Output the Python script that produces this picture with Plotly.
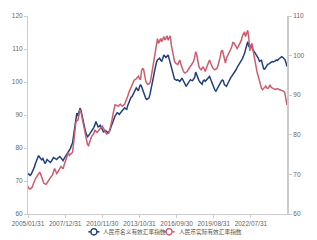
import pandas as pd
import plotly.graph_objects as go

# Monthly category labels (month-end), 2005/01/31 .. 2025/05/31
try:
    dates = list(pd.date_range("2005-01-31", periods=245, freq="ME").strftime("%Y/%m/%d"))
except Exception:
    dates = list(pd.date_range("2005-01-31", periods=245, freq="M").strftime("%Y/%m/%d"))

tick_labels = ["2005/01/31", "2007/12/31", "2010/11/30", "2013/10/31",
               "2016/09/30", "2019/08/31", "2022/07/31"]

nominal_name = "人民币名义有效汇率指数"
real_name = "人民币实际有效汇率指数"

nominal = [
    72.3, 72.0, 71.7, 72.0, 72.6, 73.2, 74.2, 75.3, 76.0, 76.8,
    77.7, 77.2, 76.6, 76.4, 76.8, 76.2, 75.3, 75.8, 76.5, 76.2,
    75.9, 75.6, 76.0, 76.6, 77.1, 76.9, 76.6, 76.5, 76.9, 77.2,
    77.4, 77.0, 76.6, 76.2, 76.8, 77.3, 77.7, 78.2, 78.7, 79.2,
    79.9, 80.8, 81.6, 83.8, 86.0, 89.0, 90.6, 89.7, 90.8, 92.1,
    91.3, 89.5, 87.6, 86.3, 85.2, 84.2, 83.4, 83.7, 84.2, 84.6,
    85.1, 85.7, 86.2, 87.0, 88.0, 87.3, 86.4, 86.5, 86.9, 86.3,
    85.5, 84.9, 85.0, 85.3, 85.0, 84.7, 84.9, 85.2, 86.2, 87.2,
    88.1, 88.9, 89.7, 90.2, 90.7, 90.5, 90.2, 90.6, 91.1, 91.5,
    92.0, 92.2, 91.9, 91.7, 92.9, 93.8, 95.0, 95.3, 95.6, 96.4,
    97.2, 97.6, 98.2, 97.8, 97.3, 98.5, 99.2, 98.6, 97.5, 96.4,
    95.8, 95.0, 94.7, 94.9, 95.2, 96.4, 97.7, 99.4, 101.2, 103.0,
    104.8, 105.9, 106.7, 107.0, 107.2, 106.6, 106.3, 107.2, 108.2, 107.8,
    107.4, 107.8, 108.2, 107.0, 105.6, 104.6, 102.8, 101.8, 100.9, 100.7,
    100.5, 100.7, 100.5, 100.2, 100.6, 101.2, 100.6, 99.9, 99.2, 98.7,
    99.2, 99.7, 100.2, 100.7, 100.5, 100.4, 100.9, 101.4, 103.0, 102.0,
    101.2, 100.5, 100.0, 99.5, 99.3, 100.3, 100.6, 100.2, 100.5, 101.1,
    101.4, 101.7, 100.9, 100.0, 99.2, 98.3, 97.6, 97.2, 97.9, 98.6,
    99.2, 99.7, 100.2, 100.6, 100.4, 99.2, 98.8, 98.7, 99.4, 100.2,
    100.8, 101.3, 101.8, 102.2, 102.6, 103.0, 103.7, 104.4, 104.9, 105.4,
    105.7, 106.4, 107.1, 107.9, 108.6, 109.9, 111.3, 112.2, 110.8, 110.5,
    111.2, 110.2, 109.7, 109.3, 108.8, 108.2, 107.8, 107.2, 106.3, 106.5,
    106.6, 105.2, 104.0, 103.9, 104.5, 105.0, 105.4, 105.5, 105.7, 106.0,
    106.2, 106.1, 106.2, 106.4, 106.7, 106.5, 106.9, 107.2, 107.4, 107.7,
    107.5, 107.2, 106.8, 105.9, 104.7,
]

real = [
    67.0, 66.4, 66.3, 66.5, 66.8, 67.6, 68.4, 68.9, 69.3, 69.8,
    70.2, 70.6, 70.0, 69.2, 68.3, 67.7, 67.6, 67.5, 67.9, 68.4,
    68.9, 69.1, 69.5, 69.8, 70.6, 71.5, 70.9, 70.2, 70.5, 71.0,
    71.5, 72.0, 71.7, 71.4, 72.3, 73.2, 73.9, 75.0, 75.6, 74.8,
    75.0, 75.3, 75.6, 78.0, 80.5, 83.0, 83.6, 83.7, 85.0, 86.4,
    85.6, 84.2, 82.5, 81.0, 79.5, 78.1, 77.6, 77.3, 77.9, 78.9,
    79.6, 80.0, 80.3, 81.2, 81.0, 80.6, 80.9, 81.2, 81.5, 81.9,
    82.2, 81.7, 81.1, 80.5, 80.2, 80.3, 80.4, 81.2, 82.2, 83.6,
    85.1, 86.5, 87.6, 87.5, 87.3, 87.2, 87.5, 87.7, 87.4, 87.2,
    87.5, 87.7, 88.4, 89.0, 89.8, 90.7, 91.4, 91.8, 92.3, 93.1,
    93.8, 94.0, 94.1, 94.5, 94.8, 94.2, 93.9, 96.2, 96.8, 96.4,
    94.8, 93.5, 93.0, 92.7, 92.9, 93.1, 94.5, 96.0, 97.8, 99.5,
    101.0, 102.6, 104.3, 103.1, 103.6, 104.3, 103.5, 104.0, 104.8, 103.9,
    104.5, 105.0, 103.9, 104.6, 105.0, 102.7, 101.0, 99.4, 98.6, 98.1,
    97.8, 97.7, 98.3, 98.9, 97.9, 96.8, 96.3, 95.8, 95.6, 95.8,
    96.0, 96.5, 96.8, 97.3, 97.7, 98.1, 98.5, 99.6, 101.0, 100.2,
    98.5, 97.2, 96.7, 96.4, 96.8, 97.2, 96.6, 96.0, 96.8, 97.5,
    98.2, 98.9, 98.2, 97.3, 96.9, 96.6, 96.4, 96.6, 96.8, 97.5,
    98.3, 99.6, 101.0, 101.4, 100.4, 99.2, 98.1, 99.4, 99.9, 100.5,
    101.0, 101.6, 102.3, 103.3, 103.2, 102.7, 102.2, 101.8, 102.2, 102.7,
    103.3, 103.9, 105.0, 105.6, 106.0, 104.8, 105.8, 106.4, 104.5, 101.2,
    102.5, 103.1, 101.4, 99.7, 98.5, 96.5, 95.6, 94.7, 93.6, 92.4,
    91.7, 91.4, 91.7, 91.9, 92.3, 91.8, 91.7, 92.0, 92.6, 92.0,
    91.8, 91.6, 91.5, 91.4, 91.6, 91.7, 91.5, 91.4, 91.3, 91.2,
    91.1, 91.0, 90.5, 89.4, 87.5,
]

BLUE = "#213f7c"
RED = "#cf5c6c"
TICK_FONT = "Liberation Sans"
CJK_FONT = "Noto Sans CJK SC"
TICK_COLOR = "#666666"
AXIS_COLOR = "#cccccc"

W, H = 317, 240
ML, MR, MT, MB = 20, 18, 14, 26
PW, PH = W - ML - MR, H - MT - MB


def px(xp):
    return (xp - ML) / PW


def py(yp):
    return (H - MB - yp) / PH


fig = go.Figure()
fig.add_trace(go.Scatter(x=dates, y=nominal, mode="lines", name=nominal_name,
                         line=dict(color=BLUE, width=1.5), yaxis="y"))
fig.add_trace(go.Scatter(x=dates, y=real, mode="lines", name=real_name,
                         line=dict(color=RED, width=1.5), yaxis="y2"))

# custom compact legend (line + open circle + label)
shapes = []
annotations = []
legend_items = [(nominal_name, BLUE, 85.0), (real_name, RED, 166.0)]
ly = 232.0
r = 3.2
for name, color, x0 in legend_items:
    shapes.append(dict(type="line", xref="paper", yref="paper",
                       x0=px(x0), x1=px(x0 + 12), y0=py(ly), y1=py(ly),
                       line=dict(color=color, width=1.5)))
    cx = x0 + 6
    shapes.append(dict(type="circle", xref="paper", yref="paper",
                       x0=px(cx - r), x1=px(cx + r), y0=py(ly + r), y1=py(ly - r),
                       fillcolor="white", line=dict(color=color, width=1.3)))
    annotations.append(dict(text=name, xref="paper", yref="paper",
                            x=px(x0 + 14), y=py(ly), xanchor="left", yanchor="middle",
                            showarrow=False,
                            font=dict(family=CJK_FONT, size=5.7, color="#555555")))

fig.update_layout(
    width=W, height=H,
    margin=dict(l=ML, r=MR, t=MT, b=MB),
    paper_bgcolor="white", plot_bgcolor="white",
    font=dict(family=TICK_FONT, size=6.5, color=TICK_COLOR),
    showlegend=False,
    shapes=shapes,
    annotations=annotations,
    xaxis=dict(type="category", range=[0, len(dates) - 1],
               tickmode="array", tickvals=tick_labels, ticktext=tick_labels,
               showgrid=False, zeroline=False, showline=True, linecolor=AXIS_COLOR, linewidth=1,
               ticks="outside", ticklen=3, tickcolor=AXIS_COLOR,
               tickfont=dict(family=TICK_FONT, size=6.5, color=TICK_COLOR), tickangle=0),
    yaxis=dict(range=[60, 120], dtick=10, showgrid=False, zeroline=False,
               showline=True, linecolor=AXIS_COLOR, linewidth=1,
               ticks="outside", ticklen=3, tickcolor=AXIS_COLOR,
               tickfont=dict(family=TICK_FONT, size=6.5, color=TICK_COLOR)),
    yaxis2=dict(range=[60, 110], dtick=10, overlaying="y", side="right",
                showgrid=False, zeroline=False,
                showline=True, linecolor=AXIS_COLOR, linewidth=2,
                ticks="outside", ticklen=3, tickcolor=AXIS_COLOR,
                tickfont=dict(family=TICK_FONT, size=6.5, color=TICK_COLOR)),
)

fig.write_html("out.html")
